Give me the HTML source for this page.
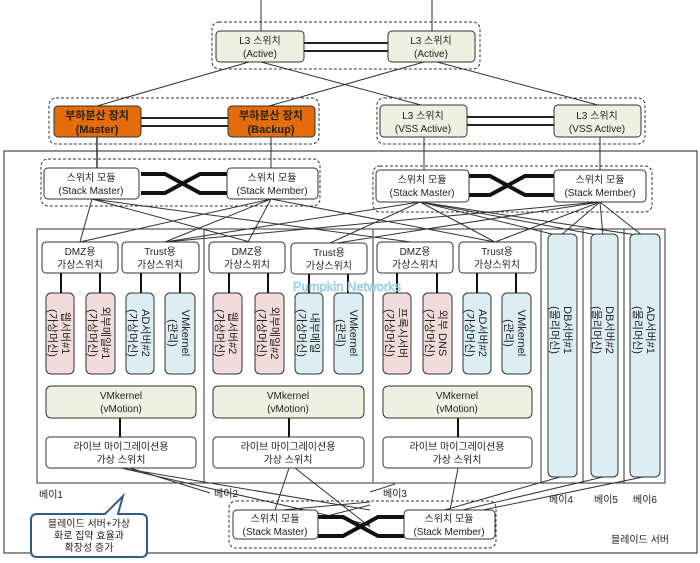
<!DOCTYPE html>
<html><head><meta charset="utf-8"><style>
html,body{margin:0;padding:0;background:#fff;}
svg{display:block;font-family:"Liberation Sans","Noto Sans CJK KR",sans-serif;}
text{font-size:10px;fill:#222;}
</style></head><body>
<svg width="700" height="563" viewBox="0 0 700 563" xmlns="http://www.w3.org/2000/svg">
<g stroke="#333" stroke-width="1" fill="none">
<!-- top lines -->
<line x1="261" y1="0" x2="261" y2="31"/><line x1="432" y1="0" x2="432" y2="31"/>
<line x1="249" y1="62" x2="97" y2="106"/>
<line x1="261" y1="62" x2="421" y2="105"/>
<line x1="424" y1="62" x2="269" y2="106"/>
<line x1="437" y1="62" x2="598" y2="105"/>
<!-- down to stacks -->
<line x1="97" y1="137" x2="97" y2="168" stroke-width="1.5"/>
<line x1="271" y1="137" x2="271" y2="168"/>
<line x1="424" y1="137" x2="424" y2="170"/>
<line x1="600" y1="137" x2="600" y2="170"/>
<!-- stack to vswitch -->
<line x1="92" y1="199" x2="80" y2="242"/>
<line x1="92" y1="199" x2="250" y2="242"/>
<line x1="92" y1="199" x2="411" y2="242"/>
<line x1="271" y1="199" x2="80" y2="242"/>
<line x1="271" y1="199" x2="165" y2="242"/>
<line x1="271" y1="199" x2="248" y2="242"/>
<line x1="271" y1="199" x2="495" y2="242"/>
<line x1="420" y1="202" x2="165" y2="242"/>
<line x1="420" y1="202" x2="330" y2="243"/>
<line x1="420" y1="202" x2="495" y2="242"/>
<line x1="420" y1="202" x2="560" y2="236"/>
<line x1="420" y1="202" x2="603" y2="236"/>
<line x1="420" y1="202" x2="643" y2="236"/>
<line x1="600" y1="202" x2="165" y2="242"/>
<line x1="600" y1="202" x2="337" y2="243"/>
<line x1="600" y1="202" x2="495" y2="242"/>
<line x1="600" y1="202" x2="560" y2="236"/>
<line x1="600" y1="202" x2="603" y2="236"/>
<line x1="600" y1="202" x2="643" y2="236"/>
<!-- bottom lines -->
<line x1="121" y1="468" x2="370" y2="525"/>
<line x1="130" y1="468" x2="210" y2="493"/>
<line x1="121" y1="468" x2="370" y2="510"/>
<line x1="289" y1="468" x2="275" y2="510"/>
<line x1="295" y1="468" x2="370" y2="527"/>
<line x1="280" y1="528" x2="370" y2="505"/>
<line x1="395" y1="484" x2="370" y2="492"/>
<line x1="458" y1="468" x2="450" y2="510"/>
<line x1="420" y1="522" x2="448" y2="530"/>
<line x1="560" y1="477" x2="420" y2="517"/>
<line x1="603" y1="477" x2="420" y2="520"/>
<line x1="643" y1="477" x2="420" y2="523"/>
<line x1="282" y1="510" x2="370" y2="502"/>
</g>
<!-- outer frame -->
<rect x="4" y="151" width="693" height="402" fill="none" stroke="#222" stroke-width="1"/>
<!-- bays frame -->
<g fill="none" stroke="#333">
<rect x="37" y="229" width="628" height="254"/>
<line x1="204" y1="229" x2="204" y2="483"/>
<line x1="373" y1="229" x2="373" y2="483" stroke="#777" stroke-width="1.5"/>
<line x1="541" y1="229" x2="541" y2="483"/>
<line x1="583" y1="229" x2="583" y2="483"/>
<line x1="624" y1="229" x2="624" y2="483"/>
</g>
<!-- dashed groups -->
<g fill="none" stroke="#333" stroke-dasharray="3,2">
<rect x="212" y="22" width="268" height="47" rx="7"/>
<rect x="49" y="98" width="270" height="46" rx="7"/>
<rect x="377" y="98" width="268" height="46" rx="7"/>
<rect x="41" y="159" width="279" height="47" rx="7"/>
<rect x="373" y="166" width="279" height="46" rx="7"/>
<rect x="229" y="501" width="267" height="47" rx="7"/>
</g>
<!-- double lines -->
<g stroke="#222" stroke-width="2">
<line x1="304" y1="43" x2="388" y2="43"/><line x1="304" y1="51" x2="388" y2="51"/>
<line x1="141" y1="118" x2="228" y2="118"/><line x1="141" y1="126" x2="228" y2="126"/>
<line x1="467" y1="117" x2="554" y2="117"/><line x1="467" y1="125" x2="554" y2="125"/>
</g>
<!-- crosses -->
<g stroke="#111" stroke-width="4" fill="none">
<path d="M141,174 H165 L200,193 H227"/><path d="M141,193 H165 L200,174 H227"/>
<path d="M469,176 H490 L525,195 H554"/><path d="M469,195 H490 L525,176 H554"/>
<path d="M318,517 H343 L378,536 H404"/><path d="M318,536 H343 L378,517 H404"/>
</g>
<!-- L3 boxes -->
<g stroke="#333" fill="#eef0e2">
<rect x="216" y="31" width="88" height="31" rx="4"/>
<rect x="388" y="31" width="87" height="31" rx="4"/>
<rect x="380" y="105" width="87" height="32" rx="4"/>
<rect x="554" y="105" width="87" height="32" rx="4"/>
</g>
<g stroke="#333" fill="#e46c0a">
<rect x="54" y="106" width="87" height="31" rx="4"/>
<rect x="228" y="106" width="87" height="31" rx="4"/>
</g>
<g text-anchor="middle">
<text x="260" y="44">L3 스위치</text><text x="260" y="57">(Active)</text>
<text x="431" y="44">L3 스위치</text><text x="431" y="57">(Active)</text>
<text x="423" y="119">L3 스위치</text><text x="423" y="132">(VSS Active)</text>
<text x="597" y="119">L3 스위치</text><text x="597" y="132">(VSS Active)</text>
<text x="97" y="119" font-weight="bold" style="font-size:11px">부하분산 장치</text><text x="97" y="133" font-weight="bold" style="font-size:11px">(Master)</text>
<text x="271" y="119" font-weight="bold" style="font-size:11px">부하분산 장치</text><text x="271" y="133" font-weight="bold" style="font-size:11px">(Backup)</text>
</g>
<!-- white boxes -->
<g stroke="#333" fill="#fff">
<rect x="44" y="168" width="95" height="31" rx="4"/>
<rect x="227" y="168" width="91" height="31" rx="4"/>
<rect x="376" y="170" width="93" height="32" rx="4"/>
<rect x="554" y="170" width="92" height="32" rx="4"/>
<rect x="233" y="510" width="85" height="29" rx="4"/>
<rect x="404" y="510" width="91" height="29" rx="4"/>
<rect x="42" y="242" width="76" height="31" rx="4"/>
<rect x="122" y="242" width="77" height="31" rx="4"/>
<rect x="209" y="242" width="76" height="31" rx="4"/>
<rect x="291" y="243" width="76" height="31" rx="4"/>
<rect x="377" y="242" width="76" height="31" rx="4"/>
<rect x="459" y="242" width="77" height="31" rx="4"/>
<rect x="46" y="437" width="150" height="31" rx="4"/>
<rect x="213" y="437" width="151" height="31" rx="4"/>
<rect x="383" y="437" width="149" height="31" rx="4"/>
</g>
<g text-anchor="middle">
<text x="91" y="181">스위치 모듈</text><text x="91" y="194">(Stack Master)</text>
<text x="272" y="181">스위치 모듈</text><text x="272" y="194">(Stack Member)</text>
<text x="422" y="183">스위치 모듈</text><text x="422" y="196">(Stack Master)</text>
<text x="600" y="183">스위치 모듈</text><text x="600" y="196">(Stack Member)</text>
<text x="275" y="522">스위치 모듈</text><text x="275" y="535">(Stack Master)</text>
<text x="449" y="522">스위치 모듈</text><text x="449" y="535">(Stack Member)</text>
<text x="80" y="255">DMZ용</text><text x="80" y="268">가상스위치</text>
<text x="160" y="255">Trust용</text><text x="160" y="268">가상스위치</text>
<text x="247" y="255">DMZ용</text><text x="247" y="268">가상스위치</text>
<text x="329" y="256">Trust용</text><text x="329" y="269">가상스위치</text>
<text x="415" y="255">DMZ용</text><text x="415" y="268">가상스위치</text>
<text x="497" y="255">Trust용</text><text x="497" y="268">가상스위치</text>
<text x="121" y="450">라이브 마이그레이션용</text><text x="121" y="463">가상 스위치</text>
<text x="288" y="450">라이브 마이그레이션용</text><text x="288" y="463">가상 스위치</text>
<text x="457" y="450">라이브 마이그레이션용</text><text x="457" y="463">가상 스위치</text>
</g>
<!-- thick connectors -->
<g stroke="#111" stroke-width="2">
<line x1="61" y1="273" x2="61" y2="293"/><line x1="100" y1="273" x2="100" y2="293"/>
<line x1="141" y1="273" x2="141" y2="293"/><line x1="180" y1="273" x2="180" y2="293"/>
<line x1="229" y1="273" x2="229" y2="293"/><line x1="268" y1="273" x2="268" y2="293"/>
<line x1="309" y1="274" x2="309" y2="293"/><line x1="348" y1="274" x2="348" y2="293"/>
<line x1="397" y1="273" x2="397" y2="293"/><line x1="437" y1="273" x2="437" y2="293"/>
<line x1="477" y1="273" x2="477" y2="293"/><line x1="516" y1="273" x2="516" y2="293"/>
<line x1="120" y1="418" x2="120" y2="437"/><line x1="289" y1="418" x2="289" y2="437"/><line x1="458" y1="418" x2="458" y2="437"/>
</g>
<!-- VMkernel vMotion -->
<g stroke="#333" fill="#eef0e2">
<rect x="46" y="386" width="150" height="32" rx="5"/>
<rect x="213" y="386" width="151" height="32" rx="5"/>
<rect x="383" y="386" width="149" height="32" rx="5"/>
</g>
<g text-anchor="middle">
<text x="121" y="399">VMkernel</text><text x="121" y="412">(vMotion)</text>
<text x="288" y="399">VMkernel</text><text x="288" y="412">(vMotion)</text>
<text x="457" y="399">VMkernel</text><text x="457" y="412">(vMotion)</text>
</g>
<!-- VM boxes -->
<g stroke="#333">
<rect x="46" y="293" width="28" height="81" rx="5" fill="#f2dcdb"/>
<rect x="86" y="293" width="29" height="81" rx="5" fill="#f2dcdb"/>
<rect x="126" y="293" width="28" height="81" rx="5" fill="#dbeef4"/>
<rect x="165" y="293" width="30" height="81" rx="5" fill="#dbeef4"/>
<rect x="213" y="293" width="29" height="81" rx="5" fill="#f2dcdb"/>
<rect x="255" y="293" width="29" height="81" rx="5" fill="#f2dcdb"/>
<rect x="295" y="293" width="28" height="81" rx="5" fill="#dbeef4"/>
<rect x="334" y="293" width="29" height="81" rx="5" fill="#dbeef4"/>
<rect x="383" y="293" width="28" height="81" rx="5" fill="#f2dcdb"/>
<rect x="423" y="293" width="29" height="81" rx="5" fill="#f2dcdb"/>
<rect x="463" y="293" width="28" height="81" rx="5" fill="#dbeef4"/>
<rect x="502" y="293" width="29" height="81" rx="5" fill="#dbeef4"/>
<rect x="548" y="234" width="29" height="243" rx="5" fill="#dbeef4"/>
<rect x="591" y="234" width="27" height="243" rx="5" fill="#dbeef4"/>
<rect x="630" y="234" width="30" height="243" rx="5" fill="#dbeef4"/>
</g>
<g text-anchor="middle" style="font-size:11px">
<g transform="translate(60,333) rotate(90)"><text x="0" y="-2" style="font-size:11px">웹서버#1</text><text x="0" y="11" style="font-size:11px">(가상머신)</text></g>
<g transform="translate(100,333) rotate(90)"><text x="0" y="-2" style="font-size:11px">외부메일#1</text><text x="0" y="11" style="font-size:11px">(가상머신)</text></g>
<g transform="translate(140,333) rotate(90)"><text x="0" y="-2" style="font-size:11px">AD서버#2</text><text x="0" y="11" style="font-size:11px">(가상머신)</text></g>
<g transform="translate(180,333) rotate(90)"><text x="0" y="-2" style="font-size:11px">VMkernel</text><text x="0" y="11" style="font-size:11px">(관리)</text></g>
<g transform="translate(227,333) rotate(90)"><text x="0" y="-2" style="font-size:11px">웹서버#2</text><text x="0" y="11" style="font-size:11px">(가상머신)</text></g>
<g transform="translate(269,333) rotate(90)"><text x="0" y="-2" style="font-size:11px">외부메일#2</text><text x="0" y="11" style="font-size:11px">(가상머신)</text></g>
<g transform="translate(309,333) rotate(90)"><text x="0" y="-2" style="font-size:11px">내부메일</text><text x="0" y="11" style="font-size:11px">(가상머신)</text></g>
<g transform="translate(348,333) rotate(90)"><text x="0" y="-2" style="font-size:11px">VMkernel</text><text x="0" y="11" style="font-size:11px">(관리)</text></g>
<g transform="translate(397,333) rotate(90)"><text x="0" y="-2" style="font-size:11px">프록시서버</text><text x="0" y="11" style="font-size:11px">(가상머신)</text></g>
<g transform="translate(437,333) rotate(90)"><text x="0" y="-2" style="font-size:11px">외부 DNS</text><text x="0" y="11" style="font-size:11px">(가상머신)</text></g>
<g transform="translate(477,333) rotate(90)"><text x="0" y="-2" style="font-size:11px">AD서버#2</text><text x="0" y="11" style="font-size:11px">(가상머신)</text></g>
<g transform="translate(516,333) rotate(90)"><text x="0" y="-2" style="font-size:11px">VMkernel</text><text x="0" y="11" style="font-size:11px">(관리)</text></g>
<g transform="translate(562,330) rotate(90)"><text x="0" y="-2" style="font-size:11px">DB서버#1</text><text x="0" y="11" style="font-size:11px">(물리머신)</text></g>
<g transform="translate(604,330) rotate(90)"><text x="0" y="-2" style="font-size:11px">DB서버#2</text><text x="0" y="11" style="font-size:11px">(물리머신)</text></g>
<g transform="translate(645,330) rotate(90)"><text x="0" y="-2" style="font-size:11px">AD서버#1</text><text x="0" y="11" style="font-size:11px">(물리머신)</text></g>
</g>
<!-- watermark -->
<text x="347" y="291" text-anchor="middle" style="font-size:13px;fill:#bfe3f3;stroke:#7fc0dc;stroke-width:0.5">Pumpkin Networks</text>
<!-- bay labels -->
<text x="39" y="498">베이1</text>
<text x="214" y="497">베이2</text>
<text x="383" y="497">베이3</text>
<text x="549" y="503">베이4</text>
<text x="594" y="503">베이5</text>
<text x="633" y="503">베이6</text>
<text x="611" y="543">블레이드 서버</text>
<!-- callout -->
<path d="M37,514 H105 L123,496 L118,514 H141 Q147,514 147,520 V551 Q147,557 141,557 H37 Q31,557 31,551 V520 Q31,514 37,514 Z" fill="#fff" stroke="#2f5d8a" stroke-width="2"/>
<g text-anchor="middle">
<text x="89" y="527">블레이드 서버+가상</text>
<text x="89" y="539">화로 집약 효율과</text>
<text x="89" y="551">확장성 증가</text>
</g>
</svg>
</body></html>
